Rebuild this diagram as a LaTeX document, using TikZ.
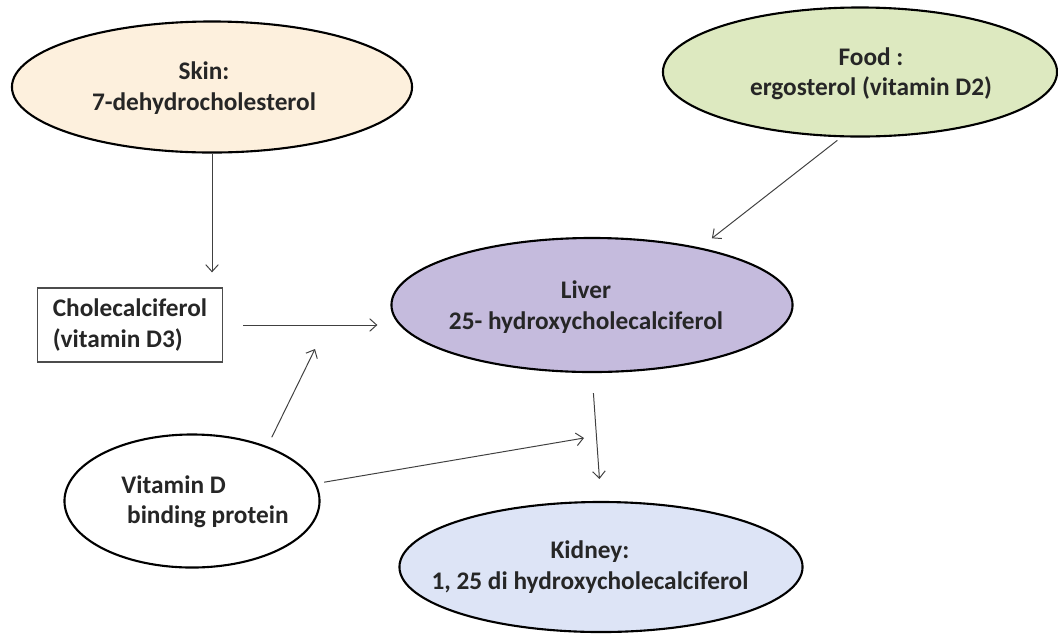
\documentclass[tikz,border=0pt]{standalone}
\usepackage{fontspec}
\setmainfont{Carlito}
\usetikzlibrary{shapes.geometric,arrows.meta}

\definecolor{skinfill}{RGB}{253,240,221}
\definecolor{foodfill}{RGB}{221,233,192}
\definecolor{liverfill}{RGB}{197,187,221}
\definecolor{kidneyfill}{RGB}{221,228,246}

\tikzset{
  oval/.style={ellipse, draw=black, line width=1.5pt, inner sep=0pt},
  lbl/.style={align=center, font=\fontsize{18}{21.5}\selectfont\bfseries, text=black!85},
  arr/.style={-{Straight Barb[length=5pt,width=9pt]}, line width=0.7pt, draw=black!75},
}

\begin{document}
\begin{tikzpicture}[x=0.025cm,y=-0.025cm]
\useasboundingbox (0,0) rectangle (1058,634);

% Skin
\node[oval, fill=skinfill, minimum width=10cm, minimum height=3.275cm] (skin) at (212,87) {};
\node[lbl] (skintext) at (204,88) {Skin:\\7-dehydrocholesterol};

% Food
\node[oval, fill=foodfill, minimum width=9.85cm, minimum height=3.225cm] (food) at (860,72) {};
\node[lbl] (foodtext) at (871,74) {Food :\\ergosterol (vitamin D2)};

% Cholecalciferol box
\node[lbl, align=left, draw=black!70, line width=0.9pt, minimum width=4.625cm, minimum height=1.85cm] (chole) at (130,325) {Cholecalciferol\\(vitamin D3)};

% Liver
\node[oval, fill=liverfill, minimum width=10.025cm, minimum height=3.35cm] (liver) at (592,305) {};
\node[lbl] (livertext) at (586,307) {Liver\\25- hydroxycholecalciferol};

% Vitamin D binding protein
\node[oval, fill=white, minimum width=6.375cm, minimum height=3.325cm] (vitd) at (192,501) {};
\node[lbl, align=left] (vitdtext) at (205,502) {Vitamin D\\\ binding protein};

% Kidney
\node[oval, fill=kidneyfill, minimum width=10.075cm, minimum height=3.25cm] (kidney) at (601,567) {};
\node[lbl] (kidneytext) at (590,567) {Kidney:\\1, 25 di hydroxycholecalciferol};

% free ends
\coordinate (vdup) at (315,349);
\coordinate (vdright) at (584,438);

% arrows
\draw[arr, shorten >=0.375cm] (skin.south) -- (skin.south |- chole.north);
\draw[arr, shorten <=0.125cm, shorten >=0.375cm] (food.254) -- (liver.28);
\draw[arr, shorten <=0.5cm, shorten >=0.325cm] (chole.east) -- (chole.east -| liver.west);
\draw[arr, shorten <=0.25cm] (vitd.36) -- (vdup);
\draw[arr, shorten <=0.2cm] (vitd.8) -- (vdright);
\draw[arr, shorten <=0.5cm, shorten >=0.55cm] (liver.south) -- (kidney.north);

\end{tikzpicture}
\end{document}
